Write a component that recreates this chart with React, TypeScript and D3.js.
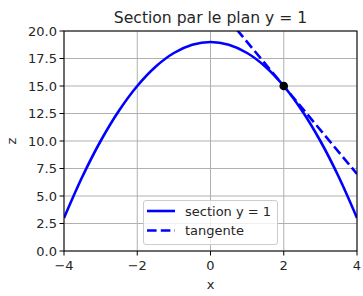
import React from "react";
import * as d3 from "d3";

const sectionX = [-4, -3.5, -3, -2.5, -2, -1.5, -1, -0.5, 0, 0.5, 1, 1.5, 2, 2.5, 3, 3.5, 4];
const sectionZ = [3, 6.75, 10, 12.75, 15, 16.75, 18, 18.75, 19, 18.75, 18, 16.75, 15, 12.75, 10, 6.75, 3];
const tangentX = [0, 4];
const tangentZ = [23, 7];
const pointX = [2];
const pointZ = [15];
const xTicks = [-4, -2, 0, 2, 4];
const yTicks = [0, 2.5, 5, 7.5, 10, 12.5, 15, 17.5, 20];
const legendLabels = ["section y = 1", "tangente"];

export default function App() {
  const W = 363, H = 296;
  const L = 64, R = 357, T = 31, B = 251;
  const x = d3.scaleLinear().domain([-4, 4]).range([L, R]);
  const y = d3.scaleLinear().domain([0, 20]).range([B, T]);
  const line = d3.line<[number, number]>().x(d => x(d[0])).y(d => y(d[1])).curve(d3.curveCatmullRom.alpha(0.5));
  const sec = sectionX.map((v, i) => [v, sectionZ[i]] as [number, number]);
  const tan = tangentX.map((v, i) => [v, tangentZ[i]] as [number, number]);
  const lineStraight = d3.line<[number, number]>().x(d => x(d[0])).y(d => y(d[1]));
  const font = "DejaVu Sans, sans-serif";
  const fmtY = (v: number) => v.toFixed(1);
  const fmtX = (v: number) => (v < 0 ? "\u2212" + Math.abs(v) : String(v));
  const lw = 2.6;
  const dash = "9.6 4.2";
  return (
    <svg width={W} height={H} style={{ position: "absolute", left: 0, top: 0, background: "#fff" }} fontFamily={font}>
      <defs>
        <clipPath id="plotclip"><rect x={L} y={T} width={R - L} height={B - T} /></clipPath>
      </defs>
      <rect x={0} y={0} width={W} height={H} fill="#fff" />
      {xTicks.map(t => (
        <line key={"gx" + t} x1={x(t)} x2={x(t)} y1={T} y2={B} stroke="#b0b0b0" strokeWidth={1} />
      ))}
      {yTicks.map(t => (
        <line key={"gy" + t} x1={L} x2={R} y1={y(t)} y2={y(t)} stroke="#b0b0b0" strokeWidth={1} />
      ))}
      <g clipPath="url(#plotclip)">
        <path d={line(sec) || ""} fill="none" stroke="#0000ff" strokeWidth={lw} />
        <path d={lineStraight(tan) || ""} fill="none" stroke="#0000ff" strokeWidth={lw} strokeDasharray={dash} />
      </g>
      {pointX.map((v, i) => (
        <circle key={"p" + i} cx={x(v)} cy={y(pointZ[i])} r={4.3} fill="#000" />
      ))}
      <rect x={L} y={T} width={R - L} height={B - T} fill="none" stroke="#000" strokeWidth={1} />
      {xTicks.map(t => (
        <g key={"tx" + t}>
          <line x1={x(t)} x2={x(t)} y1={B} y2={B + 4.5} stroke="#000" strokeWidth={1} />
          <text x={x(t)} y={270} textAnchor="middle" fontSize={13} fill="#262626">{fmtX(t)}</text>
        </g>
      ))}
      {yTicks.map(t => (
        <g key={"ty" + t}>
          <line x1={L - 4.5} x2={L} y1={y(t)} y2={y(t)} stroke="#000" strokeWidth={1} />
          <text x={L - 7} y={y(t)} dy="0.36em" textAnchor="end" fontSize={13} fill="#262626">{fmtY(t)}</text>
        </g>
      ))}
      <text x={(L + R) / 2} y={289} textAnchor="middle" fontSize={13} fill="#262626">x</text>
      <text transform={`translate(16,${(T + B) / 2}) rotate(-90)`} textAnchor="middle" fontSize={13} fill="#262626">z</text>
      <text x={(L + R) / 2} y={23} textAnchor="middle" fontSize={15.6} fill="#262626">Section par le plan y = 1</text>
      <g>
        <rect x={143.5} y={200.5} width={134} height={44} rx={2.5} fill="#fff" fillOpacity={0.8} stroke="#cccccc" strokeWidth={1} />
        <line x1={147} x2={175} y1={211} y2={211} stroke="#0000ff" strokeWidth={lw} />
        <text x={185} y={211} dy="0.36em" fontSize={13} fill="#262626">{legendLabels[0]}</text>
        <line x1={147} x2={175} y1={230.5} y2={230.5} stroke="#0000ff" strokeWidth={lw} strokeDasharray={dash} />
        <text x={185} y={230.5} dy="0.36em" fontSize={13} fill="#262626">{legendLabels[1]}</text>
      </g>
    </svg>
  );
}
